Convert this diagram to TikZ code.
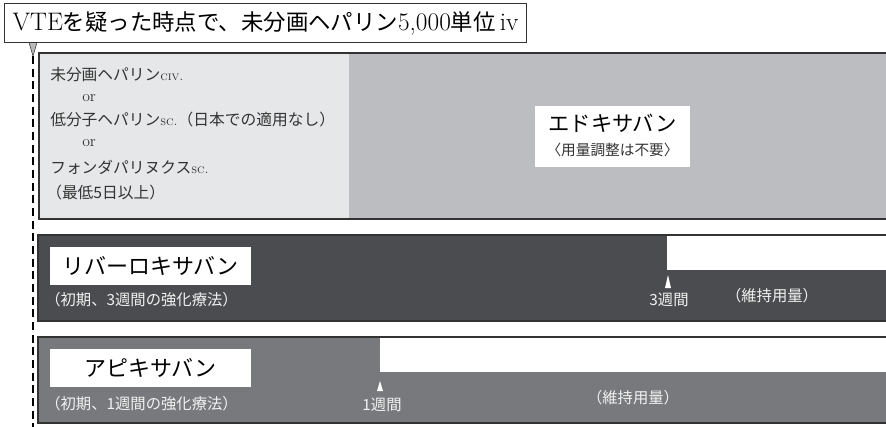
\documentclass[tikz,border=0pt]{standalone}
\usepackage{fontspec}
\newfontfamily\jp{Noto Sans CJK JP}
\definecolor{lightp}{HTML}{E6E7E8}
\definecolor{edoxp}{HTML}{BCBDC1}
\definecolor{rivp}{HTML}{4B4C4F}
\definecolor{apip}{HTML}{78797D}
\definecolor{bord}{HTML}{333333}
\definecolor{txt}{HTML}{333333}
\definecolor{wtxt}{HTML}{F2F2F2}
\tikzset{
  border/.style={draw=bord, line width=1.1pt},
  lefttext/.style={anchor=west, inner sep=0pt, text=txt, font=\fontsize{11.8}{13}\selectfont},
  whitetext/.style={anchor=center, inner sep=0pt, text=wtxt, font=\fontsize{11.5}{13}\selectfont},
  labelbox/.style={fill=white, inner sep=0pt, minimum width=150.75pt, minimum height=28.5pt, text=black, font=\fontsize{16.5}{18}\selectfont\jp},
  tri/.style={fill=white, draw=none},
  dashline/.style={draw=black, line width=1.5pt, dash pattern=on 6pt off 3.5pt},
}
\begin{document}
\begin{tikzpicture}[x=0.75pt,y=-0.75pt]
\useasboundingbox (0,0) rectangle (886,426);
\clip (0,0) rectangle (886,426);
\fill[white] (0,0) rectangle (886,426);

% panel 1
\fill[lightp] (39,53) rectangle (349,219);
\fill[edoxp] (349,53) rectangle (890,219);
\draw[border] (890,53) -- (39,53) -- (39,219) -- (890,219);

% panel 2
\fill[rivp] (38,235) rectangle (890,321);
\fill[white] (667,235) rectangle (890,270);
\draw[border] (890,235) -- (38,235) -- (38,321) -- (890,321);

% panel 3
\fill[apip] (38,337) rectangle (890,423);
\fill[white] (380,337) rectangle (890,372);
\draw[border] (890,337) -- (38,337) -- (38,423) -- (890,423);

% top box
\node[draw=bord, line width=0.8pt, fill=white, minimum width=391.5pt, minimum height=29.25pt, inner sep=0pt, anchor=north west, font=\fontsize{16.8}{18}\selectfont] (top) at (4,3)
  {{\fontsize{19}{20}\selectfont VTE}{\jp を疑った時点で、未分画ヘパリン}{\fontsize{19}{20}\selectfont 5,000}{\jp 単位}{\fontsize{19}{20}\selectfont\,iv}};
\filldraw[fill=gray!55, draw=bord, line width=0.4pt] (29,42.5) -- (37,42.5) -- (33,56) -- cycle;
\coordinate (dtop) at (33,56);
\coordinate (dbot) at (33,430);
\draw[dashline] (dtop) -- (dbot);

% left panel text
\node[lefttext] (l1) at (50,75) {{\jp 未分画ヘパリン}\textsc{\fontsize{9.5}{10}\selectfont civ.}};
\node[lefttext] (l2) at (82,98) {or};
\node[lefttext] (l3) at (50,120) {{\jp 低分子ヘパリン}\textsc{\fontsize{9.5}{10}\selectfont sc.}{\jp （日本での適用なし）}};
\node[lefttext] (l4) at (82,143) {or};
\node[lefttext] (l5) at (50,167) {{\jp フォンダパリヌクス}\textsc{\fontsize{9.5}{10}\selectfont sc.}};
\node[lefttext] (l6) at (46,193) {\jp （最低5日以上）};

% edoxaban label
\node[fill=white, inner sep=0pt, minimum width=116.25pt, minimum height=45.75pt] (edbox) at (612.5,136.5) {};
\node[inner sep=0pt, text=black, font=\fontsize{16}{18}\selectfont\jp] (ed1) at (612.5,123) {エドキサバン};
\node[inner sep=0pt, text=txt, font=\fontsize{11}{13}\selectfont\jp] (ed2) at (612.5,150) {〈用量調整は不要〉};

% rivaroxaban
\node[labelbox] (riv) at (150.5,266) {リバーロキサバン};
\node[whitetext, anchor=west] (riv2) at (45,300) {\jp （初期、3週間の強化療法）};
\fill[tri] (665,288) -- (671,288) -- (668,275) -- cycle;
\node[whitetext] (riv3) at (669,300) {\jp 3週間};
\node[whitetext] (riv4) at (772,296) {\jp （維持用量）};

% apixaban
\node[labelbox] (api) at (150.5,368) {アピキサバン};
\node[whitetext, anchor=west] (api2) at (45,404) {\jp （初期、1週間の強化療法）};
\fill[tri] (377,391) -- (383,391) -- (380,381) -- cycle;
\node[whitetext] (api3) at (382,405) {\jp 1週間};
\node[whitetext] (api4) at (633,398) {\jp （維持用量）};
\end{tikzpicture}
\end{document}
